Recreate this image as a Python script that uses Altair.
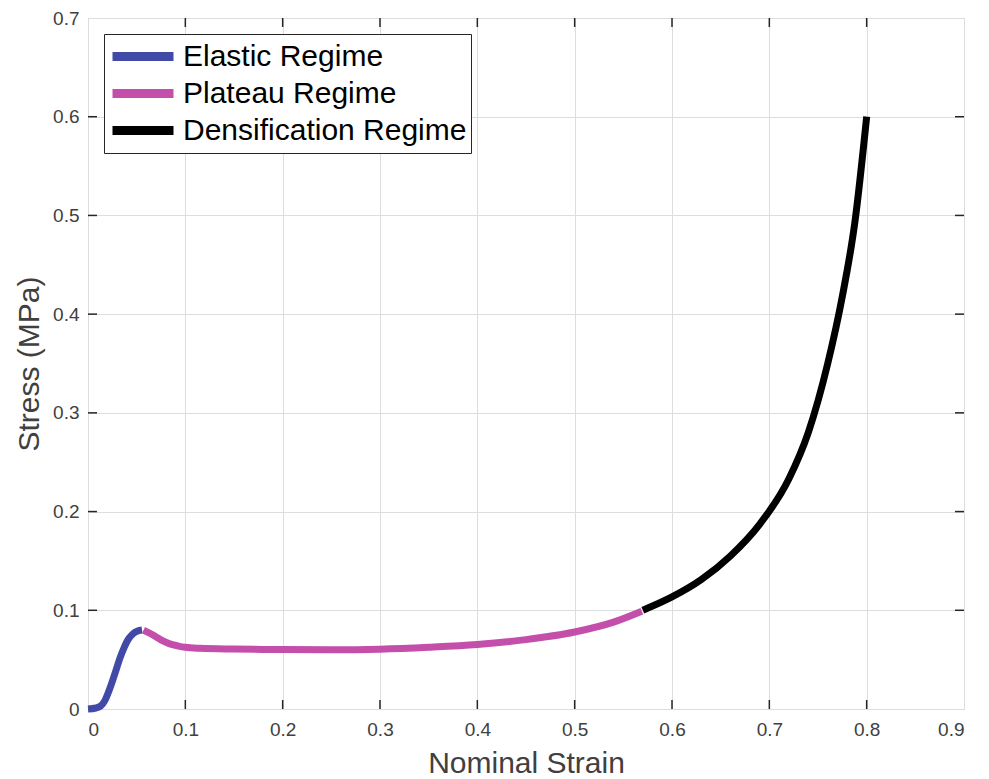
import altair as alt
import pandas as pd

# ---- data ----
elastic_strain = [0, 0.008, 0.013, 0.017, 0.021, 0.025, 0.029, 0.033, 0.037, 0.041, 0.046, 0.051, 0.0555]
elastic_stress = [0, 0.001, 0.003, 0.008, 0.017, 0.028, 0.040, 0.052, 0.062, 0.070, 0.076, 0.079, 0.080]

plateau_strain = [0.057, 0.063, 0.07, 0.077, 0.084, 0.092, 0.1, 0.115, 0.15, 0.2, 0.25, 0.3, 0.35, 0.4, 0.45, 0.5, 0.54, 0.569]
plateau_stress = [0.080, 0.077, 0.073, 0.069, 0.066, 0.064, 0.0625, 0.0615, 0.0607, 0.0602, 0.060, 0.0606, 0.0625, 0.0653, 0.0703, 0.078, 0.088, 0.099]

dens_strain = [0.57, 0.6, 0.63, 0.66, 0.69, 0.72, 0.74, 0.76, 0.775, 0.788, 0.8]
dens_stress = [0.1, 0.1135, 0.131, 0.155, 0.187, 0.233, 0.28, 0.35, 0.418, 0.494, 0.6]

regimes = ["Elastic Regime", "Plateau Regime", "Densification Regime"]
colors = ["#424aa8", "#c44fab", "#000000"]

x_ticks = [0, 0.1, 0.2, 0.3, 0.4, 0.5, 0.6, 0.7, 0.8, 0.9]
y_ticks = [0, 0.1, 0.2, 0.3, 0.4, 0.5, 0.6, 0.7]

rows = []
for name, xs, ys in zip(regimes, [elastic_strain, plateau_strain, dens_strain],
                        [elastic_stress, plateau_stress, dens_stress]):
    for i, (a, b) in enumerate(zip(xs, ys)):
        rows.append({"regime": name, "strain": a, "stress": b, "order": i})
df = pd.DataFrame(rows)

W, H = 876, 691
FONT = "Liberation Sans"
FRAME = "#262626"
TXT = "#404040"

xscale = alt.Scale(domain=[0, 0.9], nice=False, zero=False)
yscale = alt.Scale(domain=[0, 0.7], nice=False, zero=False)

lines = alt.Chart(df).mark_line(strokeWidth=7, interpolate="monotone", strokeCap="butt").encode(
    x=alt.X("strain:Q", scale=xscale,
            axis=alt.Axis(values=x_ticks, format="~g", title="Nominal Strain",
                          grid=True, ticks=False, tickSize=0, domain=False,
                          labelFontSize=19, labelColor=TXT, labelPadding=11,
                          titleFontSize=30, titleFontWeight="normal", titleColor=TXT,
                          titlePadding=9, labelFont=FONT, titleFont=FONT)),
    y=alt.Y("stress:Q", scale=yscale,
            axis=alt.Axis(values=y_ticks, format="~g", title="Stress (MPa)",
                          grid=True, ticks=False, tickSize=0, domain=False,
                          labelFontSize=19, labelColor=TXT, labelPadding=9,
                          titleFontSize=30, titleFontWeight="normal", titleColor=TXT,
                          titlePadding=8, labelFont=FONT, titleFont=FONT)),
    color=alt.Color("regime:N", scale=alt.Scale(domain=regimes, range=colors),
                    sort=regimes,
                    legend=alt.Legend(title=None, orient="none", legendX=16, legendY=16,
                                      symbolType="stroke", symbolStrokeWidth=9, symbolSize=3721,
                                      labelFontSize=30, labelFont=FONT, labelColor="#000000",
                                      padding=4, strokeColor=FRAME, fillColor="white",
                                      labelOffset=5, rowPadding=0, clipHeight=37,
                                      labelLimit=400)),
    detail="regime:N",
    order="order:Q",
)

xt = pd.DataFrame({"v": x_ticks[1:-1]})
yt = pd.DataFrame({"v": y_ticks[1:-1]})
tick_style = dict(color=FRAME, strokeWidth=1.5)

xb = alt.Chart(xt).mark_rule(**tick_style).encode(x=alt.X("v:Q", scale=xscale), y=alt.value(H), y2=alt.value(H - 9))
xtp = alt.Chart(xt).mark_rule(**tick_style).encode(x=alt.X("v:Q", scale=xscale), y=alt.value(0), y2=alt.value(9))
yl = alt.Chart(yt).mark_rule(**tick_style).encode(y=alt.Y("v:Q", scale=yscale), x=alt.value(0), x2=alt.value(9))
yr = alt.Chart(yt).mark_rule(**tick_style).encode(y=alt.Y("v:Q", scale=yscale), x=alt.value(W), x2=alt.value(W - 9))

chart = alt.layer(xb, xtp, yl, yr, lines).properties(
    width=W, height=H,
    autosize=alt.AutoSizeParams(type="none"),
    padding={"left": 80, "top": 10, "right": 10, "bottom": 72},
).configure_view(stroke=FRAME, strokeWidth=1.5).configure_axis(
    gridColor="#e3e3e3", gridWidth=1.5
).configure(background="white")

chart.save("out.html", embed_options={"renderer": "svg", "actions": False})
